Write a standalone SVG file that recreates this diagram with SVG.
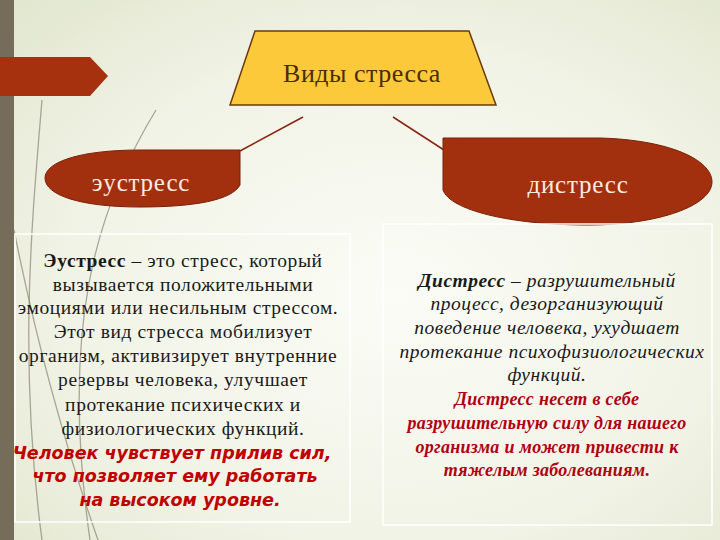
<svg xmlns="http://www.w3.org/2000/svg" width="720" height="540" viewBox="0 0 720 540">
<defs>
<radialGradient id="bg" cx="0.55" cy="0.55" r="0.75">
<stop offset="0" stop-color="#fbfcf6"/>
<stop offset="0.6" stop-color="#f1f3e6"/>
<stop offset="1" stop-color="#e2e7cf"/>
</radialGradient>
<style>
.deco{fill:none;stroke:#8a8672;stroke-width:1.3;opacity:.7}
.node{fill:#a2300f;stroke:#7a2008;stroke-width:1}
.conn{stroke:#8b2412;stroke-width:1.5;fill:none}
.lbl{font-family:"Liberation Serif","DejaVu Serif",serif;fill:#fbe9e0;text-anchor:middle}
.box{fill:none;stroke:#ffffff;stroke-width:1.5}
.lt{font-family:"Liberation Serif","DejaVu Serif",serif;font-size:19.5px;letter-spacing:0.6px;fill:#1a1a1a;text-anchor:middle}
.lr{font-family:"DejaVu Sans","Liberation Sans",sans-serif;font-size:17.5px;font-weight:bold;font-style:italic;fill:#c00000;text-anchor:middle}
.rt{font-family:"Liberation Serif","DejaVu Serif",serif;font-size:19.5px;letter-spacing:0.5px;font-style:italic;fill:#1a1a1a;text-anchor:middle}
.rr{font-family:"Liberation Serif","DejaVu Serif",serif;font-size:18px;letter-spacing:0.3px;font-style:italic;font-weight:bold;fill:#b00010;text-anchor:middle}
</style>
</defs>
<rect width="720" height="540" fill="url(#bg)"/>
<rect x="0" y="0" width="14" height="540" fill="#756d5a"/>
<path class="deco" d="M42,100 C 32,220 18,360 42,540"/>
<path class="deco" d="M156,110 C 95,210 60,330 90,540" opacity=".45"/>
<path class="deco" d="M14,230 C 40,360 70,460 98,540"/>
<path d="M0,57 L90,57 L108,76 L90,96 L0,96 Z" fill="#a5310f"/>
<g id="connectors">
<line class="conn" x1="303" y1="117" x2="240" y2="151"/>
<line class="conn" x1="393" y1="117" x2="444" y2="150"/>
</g>
<g id="top">
<path d="M255,31 L469,31 L496,105 L230,105 Z" fill="#fcc93a" stroke="#6a3a0a" stroke-width="1.5"/>
<text x="362" y="82" font-family="Liberation Serif, DejaVu Serif, serif" font-size="26" letter-spacing="0.5" fill="#4a2c08" text-anchor="middle">Виды стресса</text>
</g>
<g id="eustress">
<path class="node" d="M240,150 L240,185 C 232,200 195,207 140,207 C 80,207 45,195 45,178 C 45,162 80,150 140,150 Z"/>
<text class="lbl" x="141" y="191" font-size="25" letter-spacing="0.8">эустресс</text>
</g>
<g id="distress">
<path class="node" d="M443,138 L600,138 C 670,140 712,160 712,182 C 712,205 660,225 588,225 C 510,225 450,210 443,190 Z"/>
<text class="lbl" x="578" y="193" font-size="25" letter-spacing="0.8">дистресс</text>
</g>
<g id="eustress-text">
<rect class="box" x="15" y="234" width="335" height="288"/>
<text class="lt" x="183" y="267"><tspan font-weight="bold">Эустресс</tspan> – это стресс, который</text>
<text class="lt" x="183" y="291">вызывается положительными</text>
<text class="lt" x="178" y="314">эмоциями или несильным стрессом.</text>
<text class="lt" x="183" y="338">Этот вид стресса мобилизует</text>
<text class="lt" x="178" y="362">организм, активизирует внутренние</text>
<text class="lt" x="183" y="386">резервы человека, улучшает</text>
<text class="lt" x="183" y="411">протекание психических и</text>
<text class="lt" x="183" y="435">физиологических функций.</text>
<text class="lr" x="172" y="459">Человек чувствует прилив сил,</text>
<text class="lr" x="175" y="482">что позволяет ему работать</text>
<text class="lr" x="180" y="506">на высоком уровне.</text>
</g>
<g id="distress-text">
<rect class="box" x="383" y="224" width="329" height="301"/>
<text class="rt" x="547" y="287"><tspan font-weight="bold">Дистресс</tspan> – разрушительный</text>
<text class="rt" x="547" y="310">процесс, дезорганизующий</text>
<text class="rt" x="547" y="334">поведение человека, ухудшает</text>
<text class="rt" x="552" y="358">протекание психофизиологических</text>
<text class="rt" x="547" y="381">функций.</text>
<text class="rr" x="547" y="405">Дистресс несет в себе</text>
<text class="rr" x="547" y="429">разрушительную силу для нашего</text>
<text class="rr" x="547" y="453">организма и может привести к</text>
<text class="rr" x="547" y="476">тяжелым заболеваниям.</text>
</g>
</svg>
